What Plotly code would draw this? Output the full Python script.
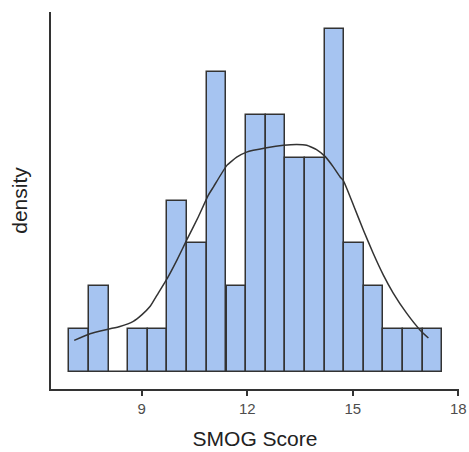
import plotly.graph_objects as go

# Histogram data (bin centers and counts)
bin_centers = [7.22, 7.78, 8.34, 8.90, 9.45, 10.01, 10.57, 11.13, 11.69, 12.24,
               12.80, 13.36, 13.92, 14.48, 15.03, 15.59, 16.15, 16.71, 17.27]
counts = [1, 2, 0, 1, 1, 4, 3, 7, 2, 6, 6, 5, 5, 8, 3, 2, 1, 1, 1]
bin_width = 0.558

# Density curve (scaled to count units)
curve_x = [7.08, 7.53, 8.07, 8.38, 8.76, 9.00, 9.24, 9.47, 9.73, 10.00, 10.28,
           10.61, 10.89, 11.04, 11.42, 11.70, 11.98, 12.55, 13.03, 13.41, 13.69,
           13.97, 14.21, 14.45, 14.64, 14.73, 15.02, 15.30, 15.58, 15.87, 16.15,
           16.53, 16.91, 17.15]
curve_y = [0.735, 0.89, 1.00, 1.06, 1.18, 1.33, 1.53, 1.84, 2.19, 2.61, 3.08,
           3.62, 4.12, 4.32, 4.82, 5.01, 5.13, 5.23, 5.29, 5.31, 5.29,
           5.19, 5.03, 4.78, 4.55, 4.47, 3.89, 3.31, 2.77, 2.26, 1.84,
           1.37, 0.98, 0.79]

x_ticks = [9, 12, 15, 18]

fig = go.Figure()
fig.add_trace(go.Bar(
    x=bin_centers, y=counts, width=bin_width,
    marker=dict(color="#a6c4f1", line=dict(color="#333333", width=1.5)),
    showlegend=False,
))
fig.add_trace(go.Scatter(
    x=curve_x, y=curve_y, mode="lines",
    line=dict(color="#333333", width=1.5, shape="spline", smoothing=0.4),
    showlegend=False,
))

fig.update_layout(
    width=469, height=452,
    margin=dict(l=51, r=10, t=12, b=63),
    paper_bgcolor="white", plot_bgcolor="white",
    bargap=0,
    font=dict(family="Liberation Sans, Arial, sans-serif"),
    xaxis=dict(
        range=[6.42, 18.02], tickvals=x_ticks, ticktext=[str(t) for t in x_ticks],
        automargin=False,
        showgrid=False, zeroline=False,
        showline=True, linecolor="#333333", linewidth=1.5,
        ticks="outside", ticklen=5, tickwidth=1.5, tickcolor="#333333",
        tickfont=dict(size=15, color="#4d4d4d"),
        title=dict(text="SMOG Score", font=dict(size=21, color="#222222"), standoff=16),
    ),
    yaxis=dict(
        range=[-0.4, 8.4], automargin=False,
        showgrid=False, zeroline=False, showticklabels=False, ticks="",
        showline=True, linecolor="#333333", linewidth=1.5,
        title=dict(text="density", font=dict(size=21, color="#222222"), standoff=16),
    ),
)

fig.write_html("out.html", config={"displayModeBar": False},
               post_script="document.body.style.margin='0';")
